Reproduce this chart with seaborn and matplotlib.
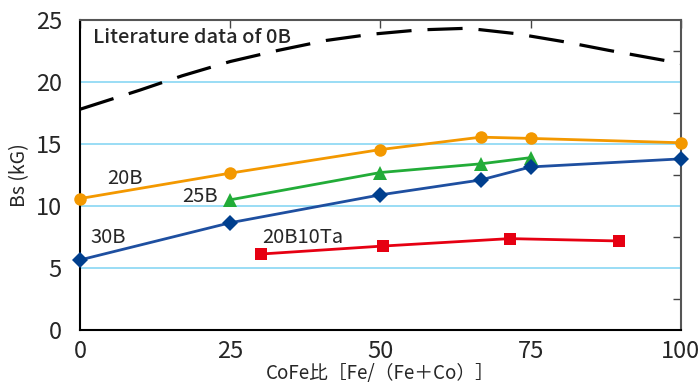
import matplotlib
matplotlib.use("Agg")
import matplotlib.pyplot as plt
import seaborn as sns
import pandas as pd

# Bs vs CoFe ratio
lit_x = [0, 10, 17, 25, 33, 41, 48.5, 56.5, 64.5, 72.5, 80.5, 88, 96, 100]
lit_y = [17.8, 19.35, 20.5, 21.65, 22.55, 23.35, 23.85, 24.2, 24.33, 23.9, 23.25, 22.55, 21.85, 21.5]

b20_x = [0, 25, 50, 66.7, 75, 100]
b20_y = [10.6, 12.65, 14.55, 15.55, 15.45, 15.1]

b25_x = [25, 50, 66.7, 75]
b25_y = [10.5, 12.7, 13.4, 13.9]

b30_x = [0, 25, 50, 66.7, 75, 100]
b30_y = [5.65, 8.65, 10.9, 12.1, 13.15, 13.8]

ta_x = [30.2, 50.4, 71.5, 89.7]
ta_y = [6.13, 6.77, 7.37, 7.18]

sns.set_style("white")
plt.rcParams["font.family"] = ["Noto Sans CJK JP", "DejaVu Sans"]

fig = plt.figure(figsize=(6.99, 3.9), dpi=100)
ax = fig.add_axes([0.1145, 0.1538, 0.8595, 0.795])

for yv in [5, 10, 15, 20]:
    ax.axhline(yv, color="#7fd3f2", lw=1.1, zorder=0)

sns.lineplot(x=lit_x, y=lit_y, ax=ax, color="black", lw=2.3, dashes=False)
ax.lines[-1].set_dashes([11, 5])

series = [
    (b20_x, b20_y, "#f39800", "o", 9),
    (b25_x, b25_y, "#22ac38", "^", 10),
    (b30_x, b30_y, "#1e4fa0", "D", 8),
    (ta_x, ta_y, "#e60012", "s", 9),
]
for xs, ys, col, mk, ms in series:
    df = pd.DataFrame({"x": xs, "y": ys})
    sns.lineplot(data=df, x="x", y="y", ax=ax, color=col, lw=2,
                 marker=mk, markersize=ms, markeredgewidth=0,
                 markerfacecolor=col if mk != "D" else "#003f8e",
                 clip_on=False, zorder=3)

ax.set_xlim(0, 100)
ax.set_ylim(0, 25)
ax.set_xticks([0, 25, 50, 75, 100])
ax.set_yticks([0, 5, 10, 15, 20, 25])
ax.set_yticks([2.5, 7.5, 12.5, 17.5, 22.5], minor=True)
ax.tick_params(axis="both", which="both", direction="in", top=True, right=True,
               labelsize=17, length=6, width=1, color="#444444", pad=7)
ax.tick_params(axis="y", which="major", length=0, pad=13)

for s in ["top", "right"]:
    ax.spines[s].set_color("#555555")
    ax.spines[s].set_linewidth(1.5)
for s in ["left", "bottom"]:
    ax.spines[s].set_color("black")
    ax.spines[s].set_linewidth(1.5)

ax.set_xlabel("CoFe比［Fe/（Fe＋Co）］", fontsize=13.5, labelpad=0)
ax.set_ylabel("Bs (kG)", fontsize=14, labelpad=4)

ax.text(2.2, 23.55, "Literature data of 0B", fontsize=14.5, fontweight="medium", va="center")
ax.text(4.5, 12.25, "20B", fontsize=14.5, va="center")
ax.text(17, 10.8, "25B", fontsize=14.5, va="center")
ax.text(1.8, 7.5, "30B", fontsize=14.5, va="center")
ax.text(30.3, 7.5, "20B10Ta", fontsize=14.5, va="center")

fig.savefig("out.png", dpi=100)
